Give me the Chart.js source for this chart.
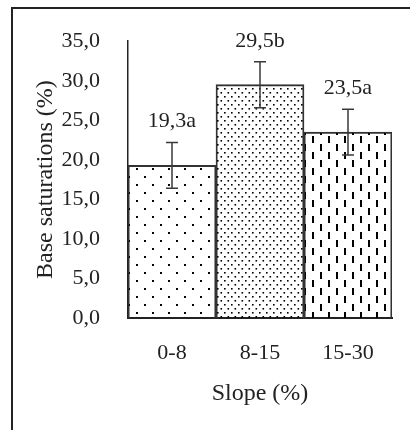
<!DOCTYPE html>
<html>
<head>
<meta charset="utf-8">
<script src="https://cdn.jsdelivr.net/npm/chart.js@4/dist/chart.umd.min.js"></script>
<style>
  html, body { margin: 0; padding: 0; background: #fff; }
  #wrap { width: 410px; height: 430px; position: relative; }
</style>
</head>
<body>
<div id="wrap"><canvas id="chartBase"></canvas></div>
<script>
// data
const slopeClasses = ['0-8', '8-15', '15-30'];
const baseSaturation = [19.3, 29.5, 23.5];
const stdError = [2.9, 2.9, 2.9];
const groupLetters = ['a', 'b', 'a'];
const yTicks = [0, 5, 10, 15, 20, 25, 30, 35];

const FONT = '"Liberation Serif", "Times New Roman", serif';

// fill patterns (dots, dense dots, dashes)
function makePattern(kind) {
  const c = document.createElement('canvas');
  const g = c.getContext('2d');
  g.fillStyle = '#000';
  if (kind === 'dots') {
    c.width = 16; c.height = 16;
    g.fillRect(0, 0, 2, 2);
    g.fillRect(8, 8, 2, 2);
  } else if (kind === 'dense') {
    c.width = 7; c.height = 8;
    g.fillRect(0, 0, 1.6, 1.6);
    g.fillRect(3.5, 4, 1.6, 1.6);
  } else {
    c.width = 16; c.height = 16;
    g.fillRect(0, 0, 2, 7);
    g.fillRect(8, 8, 2, 7);
  }
  return g.createPattern(c, 'repeat');
}

const fmt = v => v.toFixed(1).replace('.', ',');

// frame, error bars and value labels
const extras = {
  id: 'extras',
  beforeDraw(chart) {
    const ctx = chart.ctx;
    ctx.save();
    ctx.strokeStyle = '#222';
    ctx.lineWidth = 2;
    ctx.beginPath();
    ctx.moveTo(12, 430);
    ctx.lineTo(12, 8);
    ctx.lineTo(410, 8);
    ctx.stroke();
    ctx.restore();
  },
  afterDatasetsDraw(chart) {
    const ctx = chart.ctx;
    const x = chart.scales.x, y = chart.scales.y;
    ctx.save();
    ctx.strokeStyle = '#3a3a3a';
    ctx.lineWidth = 1.5;
    baseSaturation.forEach((v, i) => {
      const px = x.getPixelForValue(i);
      const top = y.getPixelForValue(v + stdError[i]);
      const bot = y.getPixelForValue(v - stdError[i]);
      ctx.beginPath();
      ctx.moveTo(px, top); ctx.lineTo(px, bot);
      ctx.moveTo(px - 6, top); ctx.lineTo(px + 6, top);
      ctx.moveTo(px - 6, bot); ctx.lineTo(px + 6, bot);
      ctx.stroke();
      ctx.fillStyle = '#222';
      ctx.font = '22px ' + FONT;
      ctx.textAlign = 'center';
      ctx.textBaseline = 'middle';
      ctx.fillText(fmt(v) + groupLetters[i], px, top - 21);
    });
    ctx.restore();
  }
};

new Chart(document.getElementById('chartBase'), {
  type: 'bar',
  data: {
    labels: slopeClasses,
    datasets: [{
      data: baseSaturation,
      backgroundColor: [makePattern('dots'), makePattern('dense'), makePattern('dash')],
      borderColor: '#333',
      borderWidth: 1.2,
      barPercentage: 1,
      categoryPercentage: 1
    }]
  },
  options: {
    responsive: true,
    maintainAspectRatio: false,
    animation: false,
    layout: { padding: { left: 31, right: 18, top: 40, bottom: 18 } },
    plugins: { legend: { display: false }, tooltip: { enabled: false } },
    scales: {
      x: {
        grid: { display: false, drawTicks: false },
        border: { color: '#222', width: 2 },
        ticks: { color: '#222', font: { family: FONT, size: 22 }, padding: 22 },
        title: { display: true, text: 'Slope (%)', color: '#222', font: { family: FONT, size: 24 }, padding: { top: 0, bottom: 4 } },
        afterFit(s) { s.height = 430 - 318 - 18; }
      },
      y: {
        min: 0, max: 35,
        grid: { display: false, drawTicks: false },
        border: { color: '#222', width: 1.5 },
        afterBuildTicks(s) { s.ticks = yTicks.map(v => ({ value: v })); },
        ticks: { color: '#222', font: { family: FONT, size: 22 }, padding: 28, callback: v => fmt(v) },
        title: { display: true, text: 'Base saturations (%)', color: '#222', font: { family: FONT, size: 24 }, padding: { top: 0, bottom: 0 } },
        afterFit(s) { s.width = 128 - 31; }
      }
    }
  },
  plugins: [extras]
});
</script>
</body>
</html>
